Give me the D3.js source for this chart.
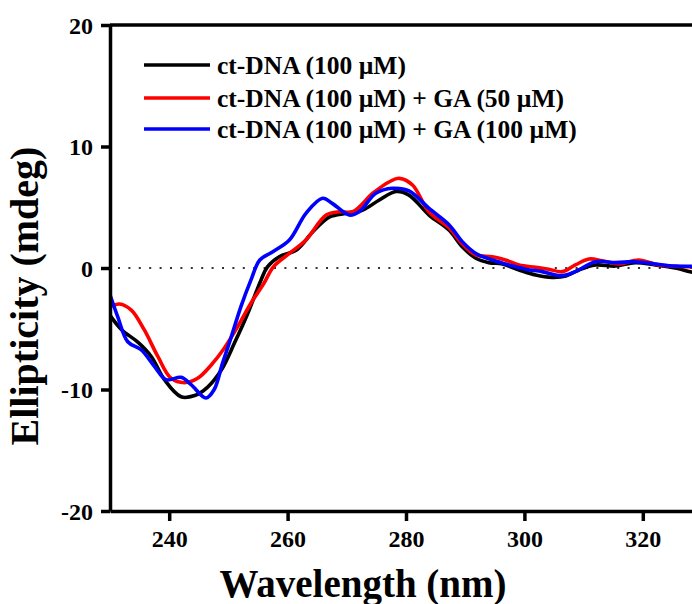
<!DOCTYPE html>
<html>
<head>
<meta charset="utf-8">
<script src="https://cdn.jsdelivr.net/npm/d3@7/dist/d3.min.js"></script>
<style>
  html, body { margin: 0; padding: 0; background: #fff; }
  svg { display: block; font-family: "Liberation Serif", "Times New Roman", serif; font-weight: bold; }
</style>
</head>
<body>
<svg id="chart" width="692" height="604"></svg>
<script>
// CD spectra of ct-DNA alone and with GA (wavelength nm, mdeg)
const seriesNames = ['ct-DNA (100 µM)', 'ct-DNA (100 µM) + GA (50 µM)', 'ct-DNA (100 µM) + GA (100 µM)'];
const seriesColors = ['#000000', '#ff0000', '#0000ff'];
const xTicks = [240, 260, 280, 300, 320];
const yTicks = [-20, -10, 0, 10, 20];

const dnaOnly = [[230,-3.9],[232,-5.1],[234.7,-6.1],[237,-7.3],[239.2,-9.2],[242,-10.6],[244.3,-10.5],[246.5,-9.8],
  [248.8,-8.4],[251,-6.2],[253.3,-3.7],[255.5,-1.0],[256.6,0.1],[258.6,0.93],[261.5,1.48],[264.3,3.0],[267.1,4.2],
  [269.9,4.5],[272.7,4.77],[275.5,5.6],[278.3,6.3],[280.5,6.0],[283.9,4.36],[287.3,3.1],[289.5,1.75],[291.8,0.8],
  [294,0.44],[296.3,0.33],[299.1,-0.16],[301.9,-0.58],[304.7,-0.77],[307,-0.66],[309.2,-0.16],[312,0.25],[315.4,0.16],
  [318.7,0.44],[322.1,0.25],[325.5,0],[328,-0.3],[330,-0.5]];
const dnaGA50 = [[230,-3.2],[231.6,-2.96],[233.6,-3.46],[235.8,-5.1],[238.1,-7.3],[240.3,-9.07],[242.6,-9.44],
  [244.8,-9.08],[247.1,-7.98],[249.3,-6.6],[251.6,-4.8],[253.8,-2.9],[256,-1.26],[257.6,0.1],[260.3,1.2],[263.1,2.3],
  [266.5,4.36],[268.8,4.63],[271,4.63],[274.4,6.15],[277.2,7.1],[278.9,7.38],[281.1,6.83],[283.9,4.6],[287.3,3.3],
  [289.5,2.0],[291.8,1.07],[294.6,0.93],[296.8,0.66],[299.1,0.25],[301.9,0.05],[304.1,-0.1],[306.4,-0.3],[308.6,0.25],
  [310.9,0.74],[313.1,0.6],[315.9,0.33],[319.3,0.66],[322.7,0.25],[328,0.1],[330,0.1]];
const dnaGA100 = [[230,-2.2],[231.3,-4.0],[233,-6.07],[235.3,-6.75],[237.5,-8.1],[239.5,-9.2],[242,-9.0],[243.7,-9.6],
  [246.2,-10.7],[247.6,-10.0],[249,-7.85],[250.4,-5.8],[252.1,-3.2],[253.8,-1.0],[255.3,0.66],[257.5,1.34],[260.3,2.3],
  [263.1,4.5],[265.9,5.74],[267.6,5.3],[270.4,4.36],[272.1,4.63],[274.9,6.15],[277.7,6.56],[280.5,6.35],[283.9,4.9],
  [287.3,3.54],[289.5,2.17],[291.8,1.2],[294.6,0.66],[297.4,0.25],[300.2,-0.1],[303,-0.3],[306.4,-0.63],[308.6,-0.3],
  [312,0.52],[315.4,0.44],[318.7,0.52],[322.1,0.33],[325.5,0.16],[330,0.16]];
const seriesData = [dnaOnly, dnaGA50, dnaGA100];

const svg = d3.select('#chart');
const L = 110, T = 25, B = 511, R = 702;
const x = d3.scaleLinear().domain([230, 330]).range([L, R]);
const y = d3.scaleLinear().domain([-20, 20]).range([B, T]);

svg.append('clipPath').attr('id', 'plot').append('rect')
  .attr('x', L).attr('y', T).attr('width', R - L).attr('height', B - T);

// zero reference
svg.append('line').attr('x1', L + 8).attr('x2', R).attr('y1', y(0)).attr('y2', y(0))
  .attr('stroke', '#333').attr('stroke-width', 2).attr('stroke-dasharray', '2,8.4');

const line = d3.line().x(d => x(d[0])).y(d => y(d[1])).curve(d3.curveCatmullRom.alpha(0.5));
const g = svg.append('g').attr('clip-path', 'url(#plot)');
seriesData.forEach((s, i) => {
  g.append('path').attr('d', line(s)).attr('fill', 'none')
    .attr('stroke', seriesColors[i]).attr('stroke-width', 3.6).attr('stroke-linejoin', 'round');
});

// axes (plain hyphen for negatives, as in the original)
const fmt = d => String(d);
const xAxis = svg.append('g').attr('transform', `translate(0,${B})`)
  .call(d3.axisBottom(x).tickValues(xTicks).tickFormat(fmt).tickSize(10).tickPadding(9).tickSizeOuter(0));
const yAxis = svg.append('g').attr('transform', `translate(${L},0)`)
  .call(d3.axisLeft(y).tickValues(yTicks).tickFormat(fmt).tickSize(9).tickPadding(8).tickSizeOuter(0));
[xAxis, yAxis].forEach(a => {
  a.select('.domain').attr('stroke', '#000').attr('stroke-width', 3.5);
  a.selectAll('.tick line').attr('stroke', '#000').attr('stroke-width', 3.5);
  a.selectAll('.tick text').attr('fill', '#000').style('font-size', '24px')
    .style('font-family', '"Liberation Serif", serif').style('font-weight', 'bold');
});
yAxis.selectAll('.tick text').attr('dy', '0.34em');
svg.append('line').attr('x1', L).attr('x2', R).attr('y1', T).attr('y2', T)
  .attr('stroke', '#000').attr('stroke-width', 3.5);

// axis titles
svg.append('text').attr('x', 363).attr('y', 597).attr('text-anchor', 'middle')
  .style('font-size', '39px').text('Wavelength (nm)');
svg.append('text').attr('transform', 'translate(38,296) rotate(-90)').attr('text-anchor', 'middle')
  .style('font-size', '40px').text('Ellipticity (mdeg)');

// legend
const legendY = [65, 98, 129];
seriesNames.forEach((n, i) => {
  svg.append('line').attr('x1', 144).attr('x2', 210).attr('y1', legendY[i]).attr('y2', legendY[i])
    .attr('stroke', seriesColors[i]).attr('stroke-width', 3.6);
  svg.append('text').attr('x', 217).attr('y', legendY[i] + 9).style('font-size', '25.5px').text(n);
});
</script>
</body>
</html>
